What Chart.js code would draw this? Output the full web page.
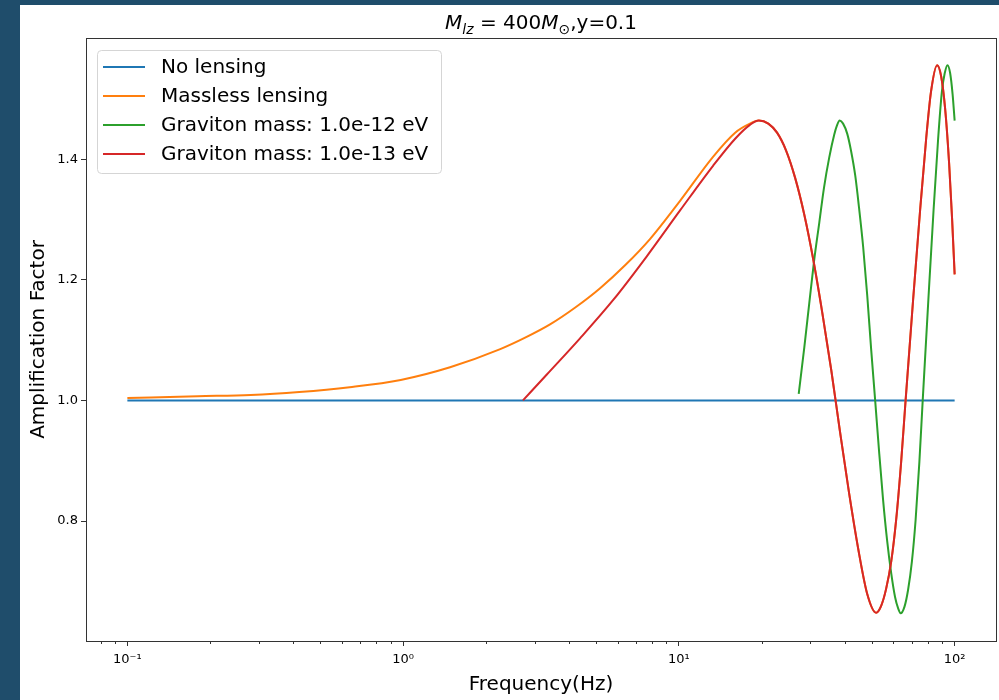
<!DOCTYPE html>
<html>
<head>
<meta charset="utf-8">
<script src="https://cdn.jsdelivr.net/npm/chart.js@4.4.0/dist/chart.umd.min.js"></script>
<style>
  body { margin: 0; background: #1f4d6b; width: 999px; height: 700px; overflow: hidden; }
  #panel { position: absolute; left: 20px; top: 5px; width: 979px; height: 695px; background: #fff; }
</style>
</head>
<body>
<div id="panel"><canvas id="myChart" width="979" height="695"></canvas></div>
<script>
const seriesNames = ['No lensing', 'Massless lensing', 'Graviton mass: 1.0e-12 eV', 'Graviton mass: 1.0e-13 eV']
const seriesColors = ['#1f77b4', '#ff7f0e', '#2ca02c', '#d62728']

const xTickValues = [0.1, 1, 10, 100]
const xTickLabels = ['10⁻¹', '10⁰', '10¹', '10²']
const xMinorTicks = [0.08, 0.09, 0.2, 0.3, 0.4, 0.5, 0.6, 0.7, 0.8, 0.9, 2, 3, 4, 5, 6, 7, 8, 9, 20, 30, 40, 50, 60, 70, 80, 90]
const yTickValues = [0.8, 1.0, 1.2, 1.4]

const noLensFreq = [0.1, 100]
const noLensAmp = [1.0, 1.0]

// parte baja de la curva sin masa
const masslessLowFreq = [0.1, 0.18, 0.28, 0.42, 0.64, 0.98, 1.48, 2.25, 2.77, 3.41, 4.21, 5.18, 6.38, 7.87, 10.1, 13.3, 16.0, 18.1]
const masslessLowAmp = [1.004, 1.007, 1.009, 1.014, 1.022, 1.034, 1.055, 1.085, 1.104, 1.126, 1.154, 1.186, 1.224, 1.268, 1.331, 1.404, 1.444, 1.459]

// masa 1e-13: arranque propio
const mg13LowFreq = [2.72, 3.32, 4.38, 5.79, 7.65, 10.1, 13.3, 16.0, 18.1]
const mg13LowAmp = [1.000, 1.043, 1.103, 1.167, 1.239, 1.315, 1.389, 1.434, 1.457]

// desde el pico las dos curvas (sin masa y 1e-13) van juntas
const tailFreq = [19.5, 21.1, 22.7, 24.5, 26.4, 28.5, 30.7, 33.1, 35.7, 38.4, 41.4, 44.7, 48.2, 51.9, 54.1, 56.4, 58.9, 61.4, 64.0, 66.4,
  70.7, 75.0, 78.8, 82.1, 86.4, 89.3, 92.4, 95.5, 97.9, 100]
const tailAmp = [1.464, 1.459, 1.444, 1.414, 1.369, 1.308, 1.234, 1.146, 1.050, 0.948, 0.847, 0.754, 0.679, 0.648, 0.659, 0.687, 0.733, 0.803, 0.899, 1.000,
  1.167, 1.317, 1.433, 1.512, 1.556, 1.538, 1.483, 1.393, 1.301, 1.209]

const mg12Freq = [27.2, 28.5, 29.7, 30.9, 32.3, 33.6, 35.1, 36.6, 37.5, 38.3, 39.4, 40.8, 42.1, 43.6, 45.0, 46.6, 48.2, 49.8, 51.5, 53.2,
  55.0, 56.9, 58.9, 60.8, 62.4, 63.7, 65.8, 67.8, 70.0, 72.2, 74.5, 76.6, 80.3, 83.9, 87.1, 89.9, 92.0, 94.2, 96.3, 98.3, 100]
const mg12Amp = [1.011, 1.088, 1.161, 1.230, 1.295, 1.353, 1.403, 1.441, 1.457, 1.464, 1.459, 1.442, 1.414, 1.373, 1.320, 1.254, 1.174, 1.085, 1.000, 0.916,
  0.836, 0.768, 0.713, 0.674, 0.655, 0.647, 0.658, 0.686, 0.733, 0.802, 0.898, 1.000, 1.167, 1.317, 1.433, 1.512, 1.542, 1.556, 1.543, 1.508, 1.464]

function pts(freq, amp) {
  return freq.map((f, i) => ({ x: f, y: amp[i] }))
}

const FONT = '"DejaVu Sans", sans-serif'

// titulo con subindices (mathtext)
const titlePlugin = {
  id: 'titulo',
  afterDraw(chart) {
    const ctx = chart.ctx
    const parts = [
      ['M', 'italic 20px ' + FONT, 0],
      ['lz', 'italic 14px ' + FONT, 5],
      [' = 400', '20px ' + FONT, 0],
      ['M', 'italic 20px ' + FONT, 0],
      ['⊙', '14px ' + FONT, 5],
      [',y=0.1', '20px ' + FONT, 0]
    ]
    ctx.save()
    let total = 0
    parts.forEach(p => { ctx.font = p[1]; total += ctx.measureText(p[0]).width })
    let x = (chart.chartArea.left + chart.chartArea.right) / 2 - total / 2
    const base = 24
    ctx.fillStyle = '#000'
    ctx.textBaseline = 'alphabetic'
    parts.forEach(p => {
      ctx.font = p[1]
      ctx.fillText(p[0], x, base + p[2])
      x += ctx.measureText(p[0]).width
    })
    ctx.restore()
  }
}

// marco, ticks menores y leyenda
const framePlugin = {
  id: 'marco',
  afterDatasetsDraw(chart) {
    const ctx = chart.ctx
    const a = chart.chartArea
    const xs = chart.scales.x
    ctx.save()
    ctx.strokeStyle = '#333'
    ctx.lineWidth = 1
    ctx.strokeRect(Math.round(a.left) + 0.5, Math.round(a.top) + 0.5, Math.round(a.right - a.left), Math.round(a.bottom - a.top))
    ctx.beginPath()
    xMinorTicks.forEach(v => {
      const px = Math.round(xs.getPixelForValue(v)) + 0.5
      ctx.moveTo(px, a.bottom)
      ctx.lineTo(px, a.bottom + 3)
    })
    ctx.stroke()

    // leyenda
    const bx = 77, by = 45, bw = 344, bh = 123
    ctx.beginPath()
    ctx.roundRect(bx + 0.5, by + 0.5, bw, bh, 4)
    ctx.fillStyle = 'rgba(255,255,255,0.8)'
    ctx.fill()
    ctx.strokeStyle = '#d5d5d5'
    ctx.stroke()
    ctx.font = '20px ' + FONT
    ctx.textBaseline = 'middle'
    chart.data.datasets.forEach((ds, i) => {
      const y = by + 17 + i * 29
      ctx.strokeStyle = ds.borderColor
      ctx.lineWidth = 2
      ctx.beginPath()
      ctx.moveTo(bx + 6, y)
      ctx.lineTo(bx + 48, y)
      ctx.stroke()
      ctx.fillStyle = '#000'
      ctx.fillText(ds.label, bx + 64, y + 1)
    })
    ctx.restore()
  }
}

const datos = [
  pts(noLensFreq, noLensAmp),
  pts(masslessLowFreq.concat(tailFreq), masslessLowAmp.concat(tailAmp)),
  pts(mg12Freq, mg12Amp),
  pts(mg13LowFreq.concat(tailFreq), mg13LowAmp.concat(tailAmp))
]

const ctx = document.getElementById('myChart').getContext('2d')
const myChart = new Chart(ctx, {
  type: 'line',
  data: {
    datasets: datos.map((d, i) => ({
      label: seriesNames[i],
      data: d,
      borderColor: seriesColors[i],
      backgroundColor: seriesColors[i],
      borderWidth: 2,
      pointRadius: 0,
      fill: false,
      cubicInterpolationMode: 'monotone',
      order: 4 - i
    }))
  },
  options: {
    responsive: false,
    animation: false,
    layout: { padding: { top: 33, right: 3, left: 0, bottom: 0 } },
    plugins: {
      legend: { display: false },
      tooltip: { enabled: false },
      title: { display: false }
    },
    scales: {
      x: {
        type: 'logarithmic',
        min: Math.pow(10, -1.15),
        max: Math.pow(10, 2.15),
        bounds: 'data',
        afterBuildTicks: s => { s.ticks = xTickValues.map(v => ({ value: v })) },
        afterFit: s => { s.height = 59 },
        ticks: {
          autoSkip: false,
          maxRotation: 0,
          padding: 6,
          color: '#000',
          font: { family: FONT, size: 13 },
          callback: (v, i) => xTickLabels[i]
        },
        grid: { drawOnChartArea: false, drawTicks: true, tickLength: 5, color: '#333' },
        border: { display: false },
        title: { display: true, text: 'Frequency(Hz)', color: '#000', font: { family: FONT, size: 20 }, padding: { top: 0, bottom: 3 } }
      },
      y: {
        type: 'linear',
        min: 0.601,
        max: 1.601,
        bounds: 'data',
        afterBuildTicks: s => { s.ticks = yTickValues.map(v => ({ value: v })) },
        afterFit: s => { s.width = 66 },
        ticks: {
          autoSkip: false,
          padding: 3,
          color: '#000',
          font: { family: FONT, size: 13 },
          callback: v => v.toFixed(1)
        },
        grid: { drawOnChartArea: false, drawTicks: true, tickLength: 5, color: '#333' },
        border: { display: false },
        title: { display: true, text: 'Amplification Factor', color: '#000', font: { family: FONT, size: 20 }, padding: { top: 7, bottom: 0 } }
      }
    }
  },
  plugins: [titlePlugin, framePlugin]
})
</script>
</body>
</html>
